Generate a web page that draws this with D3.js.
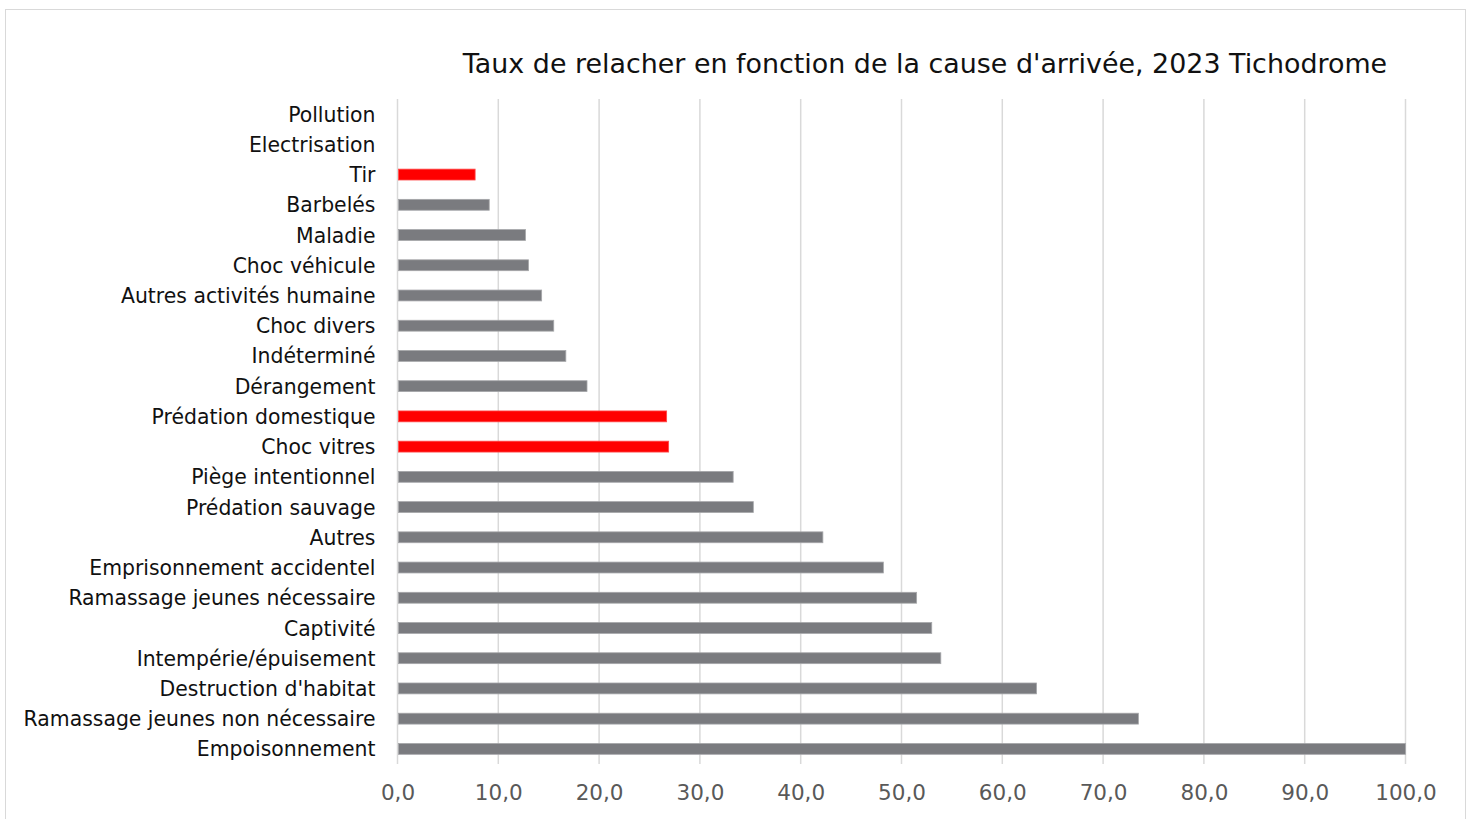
<!DOCTYPE html>
<html>
<head>
<meta charset="utf-8">
<script src="https://cdn.jsdelivr.net/npm/d3@7"></script>
<style>
  body { margin: 0; background: #fff; }
  text { font-family: "DejaVu Sans", sans-serif; }
</style>
</head>
<body>
<svg id="chart" width="1473" height="819"></svg>
<script>
// categories from top to bottom
var causes = [
  'Pollution', 'Electrisation', 'Tir', 'Barbelés', 'Maladie', 'Choc véhicule',
  'Autres activités humaine', 'Choc divers', 'Indéterminé', 'Dérangement',
  'Prédation domestique', 'Choc vitres', 'Piège intentionnel', 'Prédation sauvage',
  'Autres', 'Emprisonnement accidentel', 'Ramassage jeunes nécessaire', 'Captivité',
  'Intempérie/épuisement', "Destruction d'habitat", 'Ramassage jeunes non nécessaire',
  'Empoisonnement'
];
var taux = [
  0, 0, 7.7, 9.1, 12.7, 13.0,
  14.3, 15.5, 16.7, 18.8,
  26.7, 26.9, 33.3, 35.3,
  42.2, 48.2, 51.5, 53.0,
  53.9, 63.4, 73.5,
  100
];
var highlighted = ['Tir', 'Prédation domestique', 'Choc vitres'];
var xTicks = [0, 10, 20, 30, 40, 50, 60, 70, 80, 90, 100];

var svg = d3.select('#chart');

// outer chart frame
svg.append('rect')
    .attr('x', 5.5).attr('y', 9.5)
    .attr('width', 1460).attr('height', 830)
    .attr('fill', '#fff').attr('stroke', '#d9d9d9');

var x = d3.scaleLinear().domain([0, 100]).range([397.5, 1405.5]);
var y = d3.scaleBand().domain(causes).range([99, 764]).paddingInner(0.64).paddingOuter(0.32);

// vertical gridlines
svg.append('g')
    .selectAll('line')
    .data(xTicks)
    .join('line')
    .attr('x1', function(d) { return x(d); })
    .attr('x2', function(d) { return x(d); })
    .attr('y1', 99).attr('y2', 764)
    .attr('stroke', '#d9d9d9').attr('stroke-width', 1.5);

// bars
svg.append('g')
    .selectAll('rect')
    .data(causes)
    .join('rect')
    .filter(function(d, i) { return taux[i] > 0; })
    .attr('x', x(0) + 1)
    .attr('y', function(d) { return y(d); })
    .attr('width', function(d) { return x(taux[causes.indexOf(d)]) - x(0) - 1; })
    .attr('height', y.bandwidth())
    .attr('fill', function(d) { return highlighted.indexOf(d) >= 0 ? '#ff0000' : '#7a7b7f'; })
    .attr('stroke', function(d) { return highlighted.indexOf(d) >= 0 ? '#ff4a4a' : '#a6a7aa'; })
    .attr('stroke-width', 0.8);

// category axis labels
var yAxis = d3.axisLeft(y).tickSize(0).tickPadding(22);
svg.append('g')
    .attr('transform', 'translate(' + x(0) + ',1)')
    .call(yAxis)
    .call(function(g) { g.select('.domain').remove(); })
    .selectAll('text')
    .attr('font-size', 20.4)
    .attr('fill', '#111')
    .style('font-family', '"DejaVu Sans", sans-serif');

// value axis labels
var xAxis = d3.axisBottom(x).tickValues(xTicks).tickSize(0).tickPadding(21)
    .tickFormat(function(d) { return d3.format('.1f')(d).replace('.', ','); });
svg.append('g')
    .attr('transform', 'translate(0,764)')
    .call(xAxis)
    .call(function(g) { g.select('.domain').remove(); })
    .selectAll('text')
    .attr('font-size', 21.5)
    .attr('fill', '#595959')
    .style('font-family', '"DejaVu Sans", sans-serif');

// title
svg.append('text')
    .attr('x', 925).attr('y', 73)
    .attr('text-anchor', 'middle')
    .attr('font-size', 26.9)
    .attr('fill', '#111')
    .text("Taux de relacher en fonction de la cause d'arrivée, 2023 Tichodrome");
</script>
</body>
</html>
